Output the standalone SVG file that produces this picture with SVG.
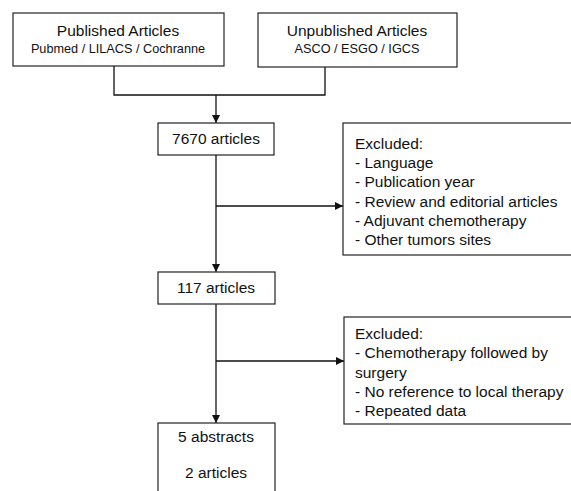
<svg xmlns="http://www.w3.org/2000/svg" width="571" height="491" viewBox="0 0 571 491">
<style>
.box{fill:#fff;stroke:#222;stroke-width:1.2}
.t{font-family:"Liberation Sans",Arial,sans-serif;font-size:15.5px;fill:#111}
.s{font-family:"Liberation Sans",Arial,sans-serif;font-size:12.7px;fill:#111}
.c{text-anchor:middle}
.ln{fill:none;stroke:#111;stroke-width:1.3}
</style>
<defs>
<marker id="ah" viewBox="0 0 10 10" refX="10" refY="5" markerWidth="8" markerHeight="8" markerUnits="userSpaceOnUse" orient="auto">
<path d="M0,0 L10,5 L0,10 z" fill="#111"/>
</marker>
</defs>
<rect width="571" height="491" fill="#fff"/>
<g id="connectors">
<polyline class="ln" points="114,66 114,95 325,95 325,67"/>
<line class="ln" x1="216" y1="95" x2="216" y2="123" marker-end="url(#ah)"/>
<line class="ln" x1="216" y1="155" x2="216" y2="272" marker-end="url(#ah)"/>
<line class="ln" x1="216" y1="206" x2="343" y2="206" marker-end="url(#ah)"/>
<line class="ln" x1="216" y1="304" x2="216" y2="423" marker-end="url(#ah)"/>
<line class="ln" x1="216" y1="361" x2="344" y2="361" marker-end="url(#ah)"/>
</g>
<g id="published">
<rect class="box" x="13" y="13" width="211" height="53"/>
<text class="t c" x="118" y="36">Published Articles</text>
<text class="s c" x="118" y="53">Pubmed / LILACS / Cochranne</text>
</g>
<g id="unpublished">
<rect class="box" x="258" y="13" width="199" height="54"/>
<text class="t c" x="357" y="36">Unpublished Articles</text>
<text class="s c" x="357" y="53">ASCO / ESGO / IGCS</text>
</g>
<g id="n7670">
<rect class="box" x="158" y="123" width="116" height="32"/>
<text class="t c" x="216" y="144">7670 articles</text>
</g>
<g id="excluded1">
<rect class="box" x="343" y="123" width="240" height="132"/>
<text class="t" x="355" y="149">Excluded:</text>
<text class="t" x="355" y="168">- Language</text>
<text class="t" x="355" y="187">- Publication year</text>
<text class="t" x="355" y="206.5">- Review and editorial articles</text>
<text class="t" x="355" y="225.5">- Adjuvant chemotherapy</text>
<text class="t" x="355" y="244.5">- Other tumors sites</text>
</g>
<g id="n117">
<rect class="box" x="158" y="272" width="117" height="32"/>
<text class="t c" x="216" y="293">117 articles</text>
</g>
<g id="excluded2">
<rect class="box" x="344" y="317" width="240" height="107"/>
<text class="t" x="355" y="339">Excluded:</text>
<text class="t" x="355" y="358">- Chemotherapy followed by</text>
<text class="t" x="355" y="377.5">surgery</text>
<text class="t" x="355" y="396.5">- No reference to local therapy</text>
<text class="t" x="355" y="415.5">- Repeated data</text>
</g>
<g id="final">
<rect class="box" x="158" y="423" width="117" height="80"/>
<text class="t c" x="216" y="442">5 abstracts</text>
<text class="t c" x="216" y="478">2 articles</text>
</g>
</svg>
